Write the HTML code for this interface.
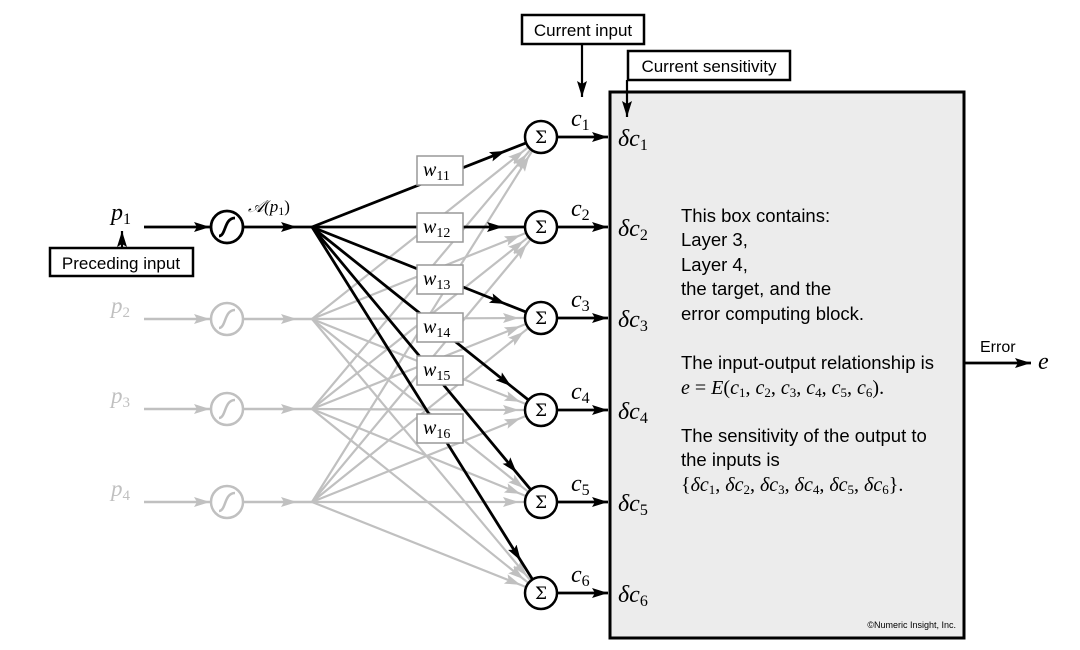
<!DOCTYPE html>
<html><head><meta charset="utf-8"><style>
html,body{margin:0;padding:0;background:#fff;}
svg{display:block;}
.m{font-family:"Liberation Serif",serif;font-style:italic;}
.s{font-family:"Liberation Sans",sans-serif;}
</style></head><body>
<svg width="1080" height="650" viewBox="0 0 1080 650" xmlns="http://www.w3.org/2000/svg">
<defs>
<marker id="ab" markerUnits="userSpaceOnUse" markerWidth="18" markerHeight="12" refX="16" refY="5" orient="auto"><path d="M0,0 L16,5 L0,10 L3,5z" fill="#000"/></marker>
<marker id="ag" markerUnits="userSpaceOnUse" markerWidth="18" markerHeight="12" refX="16" refY="5" orient="auto"><path d="M0,0 L16,5 L0,10 L3,5z" fill="#c0c0c0"/></marker>
</defs>
<rect x="610" y="92" width="354" height="546" fill="#ececec" stroke="#000" stroke-width="3"/>

<g stroke="#c0c0c0" stroke-width="2.5" fill="none">
<path d="M144,319 L210,319" marker-end="url(#ag)"/><path d="M243,319 L297,319 L312,319" marker-mid="url(#ag)"/>
<path d="M144,409 L210,409" marker-end="url(#ag)"/><path d="M243,409 L297,409 L312,409" marker-mid="url(#ag)"/>
<path d="M144,502 L210,502" marker-end="url(#ag)"/><path d="M243,502 L297,502 L312,502" marker-mid="url(#ag)"/>
<circle cx="227" cy="319" r="16"/><circle cx="227" cy="409" r="16"/><circle cx="227" cy="502" r="16"/>
<path d="M219,328 C226,328 224,310 235,310"/><path d="M219,418 C226,418 224,400 235,400"/><path d="M219,511 C226,511 224,493 235,493"/>
</g>
<g stroke="#c0c0c0" stroke-width="2.2" fill="none">
<path d="M312,319 L523.8,150.7 L528.5,147" marker-mid="url(#ag)"/>
<path d="M312,319 L520.6,235.1 L526.1,232.9" marker-mid="url(#ag)"/>
<path d="M312,319 L519,318 L525,318" marker-mid="url(#ag)"/>
<path d="M312,319 L520.6,401.9 L526.1,404.1" marker-mid="url(#ag)"/>
<path d="M312,319 L523.8,488.3 L528.5,492" marker-mid="url(#ag)"/>
<path d="M312,319 L526.9,576.1 L530.7,580.7" marker-mid="url(#ag)"/>
<path d="M312,409 L526.9,153.9 L530.7,149.3" marker-mid="url(#ag)"/>
<path d="M312,409 L523.8,240.7 L528.5,237" marker-mid="url(#ag)"/>
<path d="M312,409 L520.6,326.1 L526.1,323.9" marker-mid="url(#ag)"/>
<path d="M312,409 L519,410 L525,410" marker-mid="url(#ag)"/>
<path d="M312,409 L520.6,493.9 L526.1,496.1" marker-mid="url(#ag)"/>
<path d="M312,409 L523.8,579.3 L528.5,583" marker-mid="url(#ag)"/>
<path d="M312,502 L529.3,155.6 L532.5,150.6" marker-mid="url(#ag)"/>
<path d="M312,502 L526.9,243.9 L530.7,239.3" marker-mid="url(#ag)"/>
<path d="M312,502 L523.8,331.7 L528.5,328" marker-mid="url(#ag)"/>
<path d="M312,502 L520.6,418.1 L526.1,415.9" marker-mid="url(#ag)"/>
<path d="M312,502 L519,502 L525,502" marker-mid="url(#ag)"/>
<path d="M312,502 L520.6,584.9 L526.1,587.1" marker-mid="url(#ag)"/>
</g>
<g class="m" fill="#c0c0c0" font-size="23">
<text x="111" y="313">p<tspan font-size="15" font-style="normal" dy="4">2</tspan></text>
<text x="111" y="403">p<tspan font-size="15" font-style="normal" dy="4">3</tspan></text>
<text x="111" y="496">p<tspan font-size="15" font-style="normal" dy="4">4</tspan></text>
</g>

<g stroke="#000" stroke-width="2.8" fill="none">
<path d="M144,227 L210,227" marker-end="url(#ab)"/>
<path d="M243,227 L297,227 L312,227" marker-mid="url(#ab)"/>
<circle cx="227" cy="227" r="16" fill="#fff"/>
<path d="M219,236 C226,236 224,218 235,218"/>
<path d="M312,227 L505.6,150.9 L526.1,142.9" marker-mid="url(#ab)"/>
<path d="M312,227 L503,227 L525,227" marker-mid="url(#ab)"/>
<path d="M312,227 L505.7,304 L526.1,312.1" marker-mid="url(#ab)"/>
<path d="M312,227 L511.3,386.3 L528.5,400" marker-mid="url(#ab)"/>
<path d="M312,227 L516.7,472.8 L530.8,489.7" marker-mid="url(#ab)"/>
<path d="M312,227 L520.8,560.8 L532.5,579.4" marker-mid="url(#ab)"/>
<path d="M122,247 L122,231" stroke-width="2.2" marker-end="url(#ab)"/>
</g>
<g class="m" font-size="24">
<text x="111" y="220">p<tspan font-size="16" font-style="normal" dy="4">1</tspan></text>
<text x="248" y="212" font-size="17">𝒜(p<tspan font-size="12" font-style="normal" dy="3">1</tspan><tspan dy="-3" font-style="normal">)</tspan></text>
</g>
<rect x="50" y="248" width="143" height="28" fill="#fff" stroke="#000" stroke-width="2.5"/>
<text x="121" y="269" class="s" font-size="17" text-anchor="middle">Preceding input</text>

<g fill="#fff" stroke="#999" stroke-width="1.5">
<rect x="417" y="156" width="46" height="29"/>
<rect x="417" y="213" width="46" height="29"/>
<rect x="417" y="265" width="46" height="29"/>
<rect x="417" y="313" width="46" height="29"/>
<rect x="417" y="356" width="46" height="29"/>
<rect x="417" y="414" width="46" height="29"/>
</g>
<g class="m" font-size="20">
<text x="423" y="176">w<tspan font-size="14" font-style="normal" dy="4">11</tspan></text>
<text x="423" y="233">w<tspan font-size="14" font-style="normal" dy="4">12</tspan></text>
<text x="423" y="285">w<tspan font-size="14" font-style="normal" dy="4">13</tspan></text>
<text x="423" y="333">w<tspan font-size="14" font-style="normal" dy="4">14</tspan></text>
<text x="423" y="376">w<tspan font-size="14" font-style="normal" dy="4">15</tspan></text>
<text x="423" y="434">w<tspan font-size="14" font-style="normal" dy="4">16</tspan></text>
</g>

<g stroke="#000" stroke-width="2.5" fill="#fff">
<circle cx="541" cy="137" r="16"/><circle cx="541" cy="227" r="16"/><circle cx="541" cy="318" r="16"/>
<circle cx="541" cy="410" r="16"/><circle cx="541" cy="502" r="16"/><circle cx="541" cy="593" r="16"/>
</g>
<g stroke="#000" stroke-width="2.8" fill="none">
<path d="M557,137 L608,137" marker-end="url(#ab)"/>
<path d="M557,227 L608,227" marker-end="url(#ab)"/>
<path d="M557,318 L608,318" marker-end="url(#ab)"/>
<path d="M557,410 L608,410" marker-end="url(#ab)"/>
<path d="M557,502 L608,502" marker-end="url(#ab)"/>
<path d="M557,593 L608,593" marker-end="url(#ab)"/>
<path d="M582,44 L582,97" stroke-width="2.2" marker-end="url(#ab)"/>
<path d="M627,80 L627,117" stroke-width="2.2" marker-end="url(#ab)"/>
<path d="M964,363 L1031,363" marker-end="url(#ab)"/>
</g>
<g font-family="'DejaVu Serif',serif" font-size="17" text-anchor="middle">
<text x="541" y="143">Σ</text><text x="541" y="233">Σ</text><text x="541" y="324">Σ</text>
<text x="541" y="416">Σ</text><text x="541" y="508">Σ</text><text x="541" y="599">Σ</text>
</g>
<g class="m" font-size="24">
<text x="571" y="126">c<tspan font-size="16" font-style="normal" dy="4">1</tspan></text>
<text x="571" y="216">c<tspan font-size="16" font-style="normal" dy="4">2</tspan></text>
<text x="571" y="307">c<tspan font-size="16" font-style="normal" dy="4">3</tspan></text>
<text x="571" y="399">c<tspan font-size="16" font-style="normal" dy="4">4</tspan></text>
<text x="571" y="491">c<tspan font-size="16" font-style="normal" dy="4">5</tspan></text>
<text x="571" y="582">c<tspan font-size="16" font-style="normal" dy="4">6</tspan></text>
<text x="618" y="146">δc<tspan font-size="16" font-style="normal" dy="4">1</tspan></text>
<text x="618" y="236">δc<tspan font-size="16" font-style="normal" dy="4">2</tspan></text>
<text x="618" y="327">δc<tspan font-size="16" font-style="normal" dy="4">3</tspan></text>
<text x="618" y="419">δc<tspan font-size="16" font-style="normal" dy="4">4</tspan></text>
<text x="618" y="511">δc<tspan font-size="16" font-style="normal" dy="4">5</tspan></text>
<text x="618" y="602">δc<tspan font-size="16" font-style="normal" dy="4">6</tspan></text>
<text x="1038" y="369">e</text>
</g>

<rect x="522" y="15" width="122" height="29" fill="#fff" stroke="#000" stroke-width="2.5"/>
<text x="583" y="36" class="s" font-size="17" text-anchor="middle">Current input</text>
<rect x="628" y="51" width="162" height="29" fill="#fff" stroke="#000" stroke-width="2.5"/>
<text x="709" y="72" class="s" font-size="17" text-anchor="middle">Current sensitivity</text>
<text x="980" y="352" class="s" font-size="16">Error</text>

<g class="s" font-size="18.5">
<text x="681" y="222">This box contains:</text>
<text x="681" y="246">Layer 3,</text>
<text x="681" y="271">Layer 4,</text>
<text x="681" y="295">the target, and the</text>
<text x="681" y="320">error computing block.</text>
<text x="681" y="369">The input-output relationship is</text>
<text x="681" y="442">The sensitivity of the output to</text>
<text x="681" y="466">the inputs is</text>
</g>
<g font-family="'Liberation Serif',serif" font-size="20">
<text x="681" y="394"><tspan font-style="italic">e</tspan> = <tspan font-style="italic">E</tspan>(<tspan font-style="italic">c</tspan><tspan font-size="13" dy="3">1</tspan><tspan dy="-3">, </tspan><tspan font-style="italic">c</tspan><tspan font-size="13" dy="3">2</tspan><tspan dy="-3">, </tspan><tspan font-style="italic">c</tspan><tspan font-size="13" dy="3">3</tspan><tspan dy="-3">, </tspan><tspan font-style="italic">c</tspan><tspan font-size="13" dy="3">4</tspan><tspan dy="-3">, </tspan><tspan font-style="italic">c</tspan><tspan font-size="13" dy="3">5</tspan><tspan dy="-3">, </tspan><tspan font-style="italic">c</tspan><tspan font-size="13" dy="3">6</tspan><tspan dy="-3">).</tspan></text>
<text x="681" y="491">{<tspan font-style="italic">δc</tspan><tspan font-size="13" dy="3">1</tspan><tspan dy="-3">, </tspan><tspan font-style="italic">δc</tspan><tspan font-size="13" dy="3">2</tspan><tspan dy="-3">, </tspan><tspan font-style="italic">δc</tspan><tspan font-size="13" dy="3">3</tspan><tspan dy="-3">, </tspan><tspan font-style="italic">δc</tspan><tspan font-size="13" dy="3">4</tspan><tspan dy="-3">, </tspan><tspan font-style="italic">δc</tspan><tspan font-size="13" dy="3">5</tspan><tspan dy="-3">, </tspan><tspan font-style="italic">δc</tspan><tspan font-size="13" dy="3">6</tspan><tspan dy="-3">}.</tspan></text>
</g>
<text x="956" y="628" class="s" font-size="9" text-anchor="end">©Numeric Insight, Inc.</text>
</svg>
</body></html>
